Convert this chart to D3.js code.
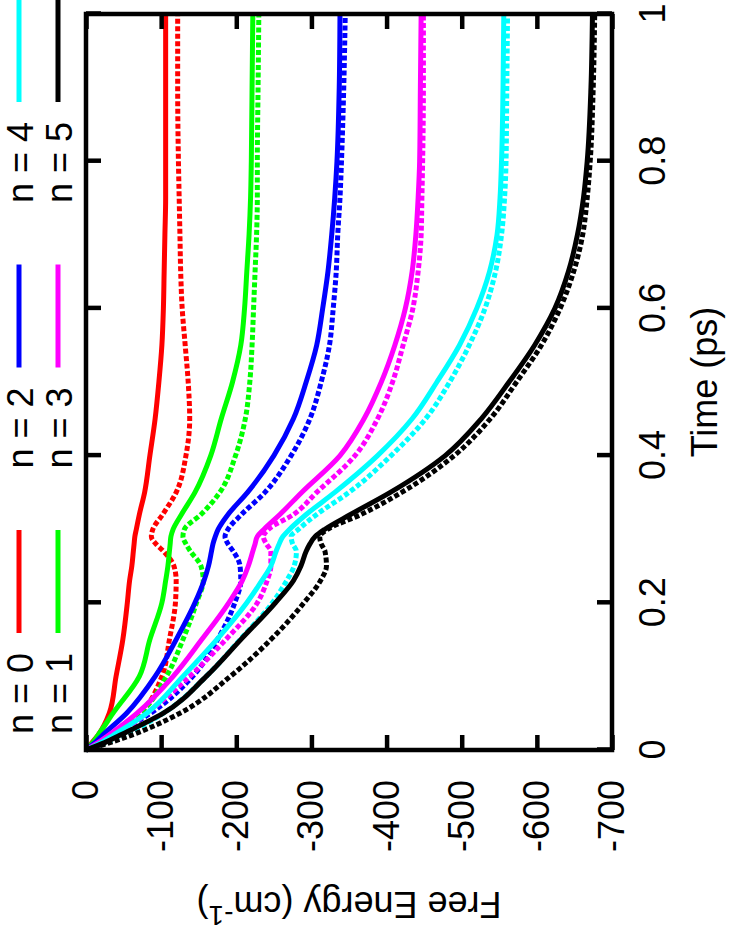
<!DOCTYPE html>
<html>
<head>
<meta charset="utf-8">
<title>Free Energy vs Time</title>
<style>
  body { margin: 0; background: #fff; }
  svg text { font-family: "Liberation Sans", Arial, Helvetica, sans-serif; }
</style>
</head>
<body>
<svg width="734" height="937"></svg>
<script src="https://d3js.org/d3.v7.min.js"></script>
<script>
// time grid (ps) shared by every curve
var times = [0, 0.01, 0.02, 0.05, 0.1, 0.15, 0.2, 0.23, 0.25, 0.27, 0.28, 0.29, 0.3, 0.32, 0.35, 0.4, 0.45, 0.5, 0.55, 0.6, 0.65, 0.7, 0.75, 0.8, 0.9, 1.0];

// free energy (cm^-1), solid curves
var solidN0 = [0, -8, -16, -31, -40, -49, -55, -58, -61, -63, -64, -65, -67, -71, -78, -85, -92, -97, -101, -103, -104, -105, -106, -106, -106, -106];
var solidN1 = [0, -9, -16, -36, -71, -85, -101, -106, -109, -111, -112, -113, -116, -127, -145, -166, -180, -195, -206, -211, -214, -217, -219, -220, -221, -222];
var solidN2 = [0, -12, -22, -54, -92, -120, -145, -157, -163, -167, -169, -172, -176, -189, -215, -250, -276, -293, -307, -315, -322, -327, -331, -334, -337, -338];
var solidN3 = [0, -16, -30, -68, -116, -154, -190, -208, -216, -222, -225, -228, -237, -258, -287, -338, -370, -393, -411, -425, -434, -439, -442, -444, -445, -446];
var solidN4 = [0, -20, -36, -81, -129, -174, -214, -234, -246, -253, -257, -262, -271, -293, -331, -388, -434, -467, -497, -520, -537, -547, -551, -553, -555, -556];
var solidN5 = [0, -25, -45, -103, -160, -206, -252, -276, -286, -293, -298, -305, -318, -352, -405, -478, -526, -563, -597, -624, -642, -654, -662, -667, -672, -674];

// free energy (cm^-1), dashed curves
var dashedN0 = [0, -18, -35, -72, -101, -111, -119, -120, -117, -103, -93, -87, -89, -102, -120, -133, -138, -136, -132, -128, -126, -125, -124, -123, -122, -122];
var dashedN1 = [0, -18, -32, -72, -107, -129, -147, -156, -153, -139, -133, -129, -131, -153, -178, -199, -212, -218, -221, -223, -225, -227, -228, -228, -229, -230];
var dashedN2 = [0, -20, -36, -86, -142, -175, -198, -206, -205, -196, -189, -185, -189, -207, -238, -273, -298, -313, -324, -329, -333, -335, -338, -340, -343, -345];
var dashedN3 = [0, -22, -40, -81, -138, -186, -228, -241, -246, -246, -240, -236, -243, -276, -307, -358, -388, -408, -422, -435, -442, -446, -447, -448, -449, -449];
var dashedN4 = [0, -28, -50, -103, -160, -205, -248, -267, -277, -280, -275, -273, -283, -307, -350, -406, -452, -484, -510, -531, -545, -553, -557, -559, -560, -561];
var dashedN5 = [0, -32, -60, -125, -192, -246, -290, -312, -320, -318, -313, -311, -322, -366, -420, -490, -538, -573, -606, -631, -649, -661, -667, -671, -675, -677];

var labels = ["n = 0", "n = 1", "n = 2", "n = 3", "n = 4", "n = 5"];
var colors = ["#ff0000", "#00ff00", "#0000ff", "#ff00ff", "#00ffff", "#000000"];
var solids = [solidN0, solidN1, solidN2, solidN3, solidN4, solidN5];
var dashes = [dashedN0, dashedN1, dashedN2, dashedN3, dashedN4, dashedN5];

var timeTicks = [0, 0.2, 0.4, 0.6, 0.8, 1];
var timeTickLabels = ["0", "0.2", "0.4", "0.6", "0.8", "1"];
var energyTicks = [0, -100, -200, -300, -400, -500, -600, -700];
var energyTickLabels = ["0", "-100", "-200", "-300", "-400", "-500", "-600", "-700"];

var svg = d3.select("svg");
// the whole plot is laid out landscape, then turned a quarter turn
var W = 937, H = 734;
var g = svg.append("g").attr("transform", "translate(0," + W + ") rotate(-90)");

var x = d3.scaleLinear().domain([0, 1]).range([187, 923]);
var y = d3.scaleLinear().domain([0, -700]).range([86, 612]);

var fontSize = 36;

// curves
var line = d3.line()
    .x(function(d) { return x(d[0]); })
    .y(function(d) { return y(d[1]); })
    .curve(d3.curveMonotoneX);

var curves = g.append("g").attr("fill", "none").attr("stroke-width", 5);
for (var i = 0; i < 6; i++) {
  curves.append("path")
      .datum(times.map(function(t, j) { return [t, solids[i][j]]; }))
      .attr("stroke", colors[i])
      .attr("d", line);
  curves.append("path")
      .datum(times.map(function(t, j) { return [t, dashes[i][j]]; }))
      .attr("stroke", colors[i])
      .attr("stroke-dasharray", "5,2.5")
      .attr("d", line);
}

// axes (ticks pointing inward, mirrored on all sides)
function styleAxis(sel) {
  sel.select(".domain").remove();
  sel.selectAll(".tick line").attr("stroke", "#000").attr("stroke-width", 4.5);
  sel.selectAll(".tick text").attr("fill", "#000")
      .style("font-size", fontSize + "px")
      .style("font-family", "'Liberation Sans', Arial, Helvetica, sans-serif");
}

g.append("g")
    .attr("transform", "translate(0," + y.range()[1] + ")")
    .call(d3.axisBottom(x).tickValues(timeTicks).tickSize(-15).tickPadding(27)
      .tickFormat(function(d, i) { return timeTickLabels[i]; }))
    .call(styleAxis);

g.append("g")
    .attr("transform", "translate(0," + y.range()[0] + ")")
    .call(d3.axisTop(x).tickValues(timeTicks).tickSize(-15).tickFormat(""))
    .call(styleAxis);

g.append("g")
    .attr("transform", "translate(" + x.range()[0] + ",0)")
    .call(d3.axisLeft(y).tickValues(energyTicks).tickSize(-15).tickPadding(30)
      .tickFormat(function(d, i) { return energyTickLabels[i]; }))
    .call(styleAxis);

g.append("g")
    .attr("transform", "translate(" + x.range()[1] + ",0)")
    .call(d3.axisRight(y).tickValues(energyTicks).tickSize(-15).tickFormat(""))
    .call(styleAxis);

// frame
g.append("rect")
    .attr("x", x.range()[0])
    .attr("y", y.range()[0])
    .attr("width", x.range()[1] - x.range()[0])
    .attr("height", y.range()[1] - y.range()[0])
    .attr("fill", "none")
    .attr("stroke", "#000")
    .attr("stroke-width", 4.5);

// axis titles
g.append("text")
    .attr("x", (x.range()[0] + x.range()[1]) / 2)
    .attr("y", 717)
    .attr("text-anchor", "middle")
    .style("font-size", fontSize + "px")
    .text("Time (ps)");

var yt = g.append("text")
    .attr("transform", "translate(45," + (y.range()[0] + y.range()[1]) / 2 + ") rotate(-90)")
    .attr("text-anchor", "middle")
    .style("font-size", fontSize + "px");
yt.append("tspan").text("Free Energy (cm");
yt.append("tspan").attr("dy", -14).style("font-size", "28px").text("-1");
yt.append("tspan").attr("dy", 14).text(")");

// key: two rows, three columns, text right-justified before the sample
var key = g.append("g");
labels.forEach(function(lab, i) {
  var col = Math.floor(i / 2), row = i % 2;
  var x0 = 304 + col * 265.5;
  var yy = row === 0 ? 19 : 58;
  key.append("line")
      .attr("x1", x0).attr("x2", x0 + 103)
      .attr("y1", yy).attr("y2", yy)
      .attr("stroke", colors[i])
      .attr("stroke-width", 5);
  key.append("text")
      .attr("x", x0 - 20)
      .attr("y", yy + 14)
      .attr("text-anchor", "end")
      .style("font-size", fontSize + "px")
      .text(lab);
});
</script>
</body>
</html>
